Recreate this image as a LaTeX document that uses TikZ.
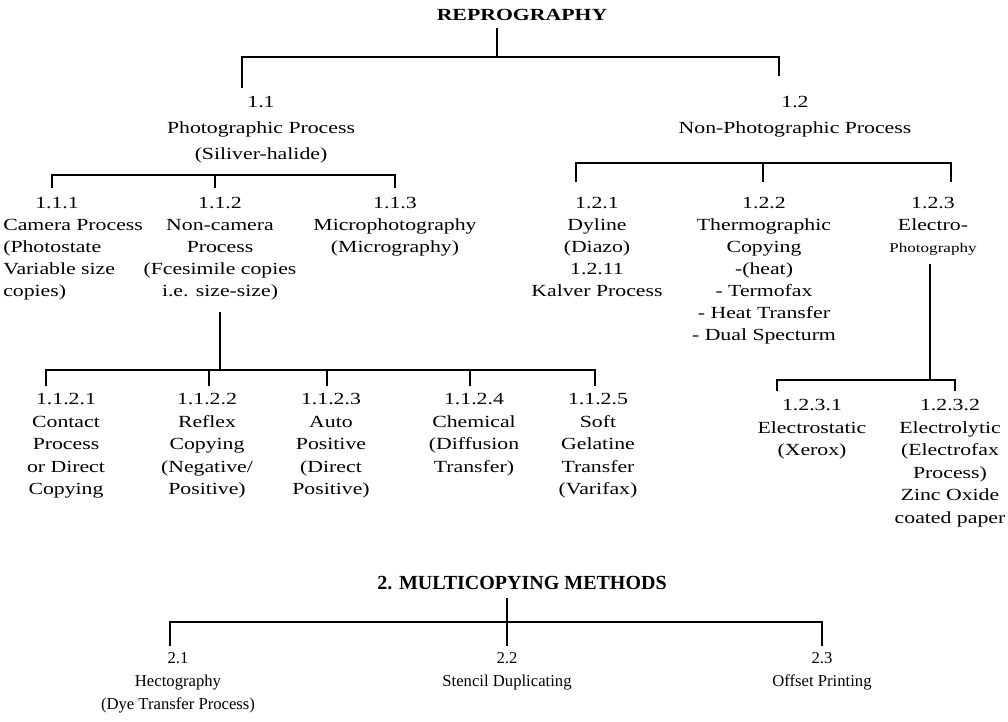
\documentclass[tikz,border=0pt]{standalone}
\usepackage{fontspec}
\setmainfont{Liberation Serif}[FakeStretch=1.28]
\newfontfamily\multifont{Liberation Serif}
\begin{document}
\begin{tikzpicture}[x=0.75pt,y=-0.75pt,
    bar/.style={line width=1.5pt},
    head/.style={inner sep=0pt,font=\bfseries\fontsize{12.75}{15}\selectfont},
    item/.style={align=center,inner sep=0pt,anchor=north,font=\fontsize{12.75}{16.5}\selectfont},
    sub/.style={item,font=\fontsize{12.75}{16.9}\selectfont},
    multi/.style={item,font=\multifont\fontsize{12.5}{17.5}\selectfont}]
    \useasboundingbox (0,0) rectangle (1008,722);

    % reprography
    \node[head] (repro) at (522,15) {REPROGRAPHY};
    \node[item,font=\fontsize{12.75}{19.5}\selectfont] (n11) at (261,96) {1.1\\Photographic Process\\(Siliver-halide)};
    \node[item,font=\fontsize{12.75}{19.5}\selectfont] (n12) at (795,96) {1.2\\Non-Photographic Process};

    \coordinate (s0) at (497,28);
    \coordinate (j0) at (497,57);
    \coordinate (d11) at (242,88);
    \coordinate (d12) at (779,76);
    \draw[bar] (s0) -- (j0);
    \draw[bar] (d11) |- (j0) -| (d12);

    % photographic
    \node[item,anchor=north west,align=left] (n111) at (3,197) {\hspace*{24pt}1.1.1\\Camera Process\\(Photostate\\Variable size\\copies)};
    \node[item] (n112) at (220,197) {1.1.2\\Non-camera\\Process\\(Fcesimile copies\\i.e. size-size)};
    \node[item] (n113) at (395,197) {1.1.3\\Microphotography\\(Micrography)};

    \coordinate (j1) at (215,175);
    \coordinate (d111) at (52,188);
    \coordinate (d112) at (215,188);
    \coordinate (d113) at (395,188);
    \draw[bar] (d111) |- (j1) -| (d113);
    \draw[bar] (j1) -- (d112);

    % non-photographic
    \node[item] (n121) at (597,197) {1.2.1\\Dyline\\(Diazo)\\1.2.11\\Kalver Process};
    \node[item] (n122) at (764,197) {1.2.2\\Thermographic\\Copying\\-(heat)\\- Termofax\\- Heat Transfer\\- Dual Specturm};
    \node[item] (n123) at (933,197) {1.2.3\\Electro-\\{\fontsize{10}{12}\selectfont Photography}};

    \coordinate (j2) at (763,163);
    \coordinate (d121) at (576,182);
    \coordinate (d122) at (763,182);
    \coordinate (d123) at (951,182);
    \draw[bar] (d121) |- (j2) -| (d123);
    \draw[bar] (j2) -- (d122);

    % non-camera
    \node[sub] (n1121) at (66,393) {1.1.2.1\\Contact\\Process\\or Direct\\Copying};
    \node[sub] (n1122) at (207,393) {1.1.2.2\\Reflex\\Copying\\(Negative/\\Positive)};
    \node[sub] (n1123) at (331,393) {1.1.2.3\\Auto\\Positive\\(Direct\\Positive)};
    \node[sub] (n1124) at (474,393) {1.1.2.4\\Chemical\\(Diffusion\\Transfer)};
    \node[sub] (n1125) at (598,393) {1.1.2.5\\Soft\\Gelatine\\Transfer\\(Varifax)};

    \coordinate (j3) at (220,370);
    \coordinate (d1121) at (46,386);
    \coordinate (d1122) at (209,386);
    \coordinate (d1123) at (327,386);
    \coordinate (d1124) at (470,386);
    \coordinate (d1125) at (595,386);
    \draw[bar] (n112.south |- 0,312) -- (j3);
    \draw[bar] (d1121) |- (j3) -| (d1125);
    \draw[bar] (d1122) -- (d1122 |- j3);
    \draw[bar] (d1123) -- (d1123 |- j3);
    \draw[bar] (d1124) -- (d1124 |- j3);

    % electro-photography
    \node[sub] (n1231) at (812,399) {1.2.3.1\\Electrostatic\\(Xerox)};
    \node[sub] (n1232) at (950,399) {1.2.3.2\\Electrolytic\\(Electrofax\\Process)\\Zinc Oxide\\coated paper};

    \coordinate (j4) at (930,380);
    \coordinate (d1231) at (777,391);
    \coordinate (d1232) at (955,391);
    \draw[bar] (n123.south -| j4) ++(0,8) -- (j4);
    \draw[bar] (d1231) |- (j4) -| (d1232);

    % multicopying
    \node[head,font=\multifont\bfseries\fontsize{15}{17}\selectfont] (multi) at (522,583) {2. MULTICOPYING METHODS};
    \node[multi] (n21) at (178,652) {2.1\\Hectography\\(Dye Transfer Process)};
    \node[multi] (n22) at (507,652) {2.2\\Stencil Duplicating};
    \node[multi] (n23) at (822,652) {2.3\\Offset Printing};

    \coordinate (s5) at (507,598);
    \coordinate (j5) at (507,622);
    \coordinate (d21) at (170,646);
    \coordinate (d22) at (507,646);
    \coordinate (d23) at (822,646);
    \draw[bar] (s5) -- (d22);
    \draw[bar] (d21) |- (j5) -| (d23);
\end{tikzpicture}
\end{document}
